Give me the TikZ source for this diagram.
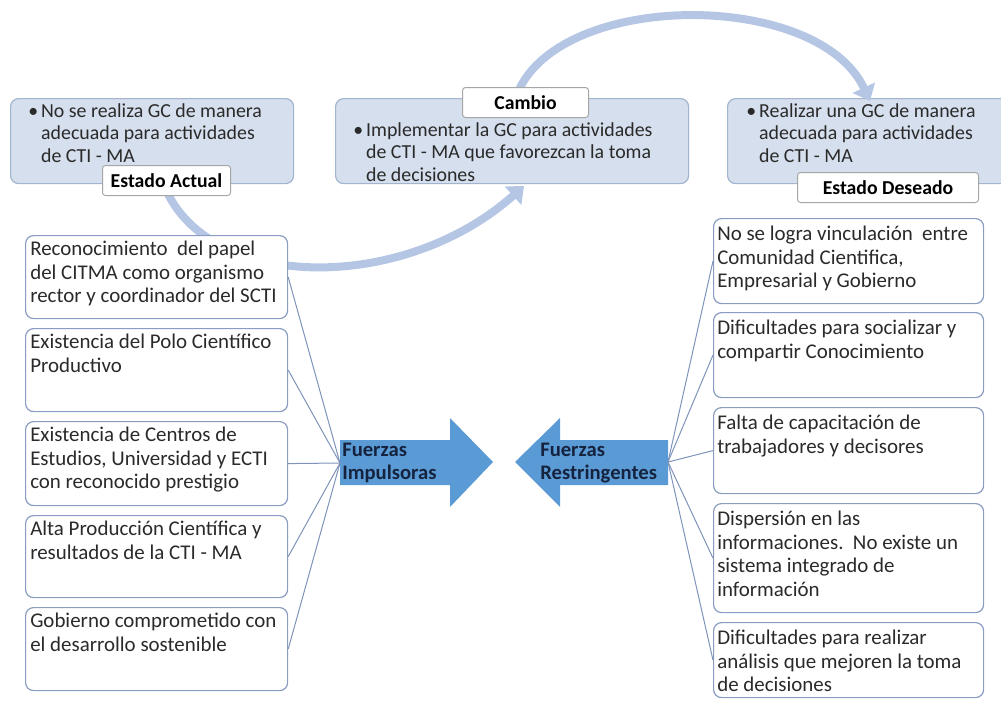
\documentclass[tikz,border=0pt]{standalone}
\usepackage{fontspec}
\setmainfont{Carlito}
\usetikzlibrary{arrows.meta,calc}
\newlength\px \setlength\px{0.75pt}
\definecolor{topfill}{HTML}{D6DFED}
\definecolor{topdraw}{HTML}{A3B4CE}
\definecolor{boxdraw}{HTML}{8A9CC2}
\definecolor{arcblue}{HTML}{B4C6E4}
\definecolor{bigblue}{HTML}{5B9BD5}
\definecolor{txtdark}{HTML}{2A2A2A}
\definecolor{navy}{HTML}{15233F}
\definecolor{linkcol}{HTML}{7F93BA}
\definecolor{lbldraw}{HTML}{A6A6A6}
\begin{document}
\begin{tikzpicture}[x=0.75pt,y=-0.75pt,
  topbox/.style={draw=topdraw, fill=topfill, rounded corners=6pt, line width=0.9pt, anchor=north west, inner sep=0},
  lblbox/.style={draw=lbldraw, fill=white, rounded corners=2.25pt, line width=0.75pt, anchor=north west, inner sep=0, text=black, font=\fontsize{14.8}{17}\selectfont\bfseries},
  fbox/.style={draw=boxdraw, fill=white, rounded corners=6pt, line width=0.9pt, anchor=north west, inner sep=0},
  ftext/.style={anchor=north west, inner sep=0, align=left, text=txtdark, font=\fontsize{15.7}{17.6}\selectfont},
  toptext/.style={anchor=north west, inner sep=0, text=txtdark, font=\fontsize{14.9}{16.9}\selectfont},
  bigtext/.style={inner sep=0, align=left, text=navy, font=\fontsize{15.5}{17.3}\selectfont\bfseries},
  link/.style={draw=linkcol, line width=0.75pt},
  arcarrow/.style={draw=arcblue, line width=6pt, -{Triangle[width=18pt,length=11pt]}}
]
\useasboundingbox (0,0) rectangle (1001,703);

% top boxes
\node[topbox, minimum width=212.25pt, minimum height=63.75pt] (ea) at (10,98) {};
\node[topbox, minimum width=264.75pt, minimum height=63.75pt] (ca) at (335,98) {};
\node[topbox, minimum width=225pt, minimum height=63.75pt] (ed) at (727,98) {};

\node[toptext] (eat) at ($(ea.north west)+(18,3)$) {\begin{tabular}{@{}l@{\hspace{2.25pt}}l@{}}\textbullet & No se realiza GC de manera\\ & adecuada para actividades\\ & de CTI - MA\end{tabular}};
\node[toptext] (cat) at ($(ca.north west)+(18,22)$) {\begin{tabular}{@{}l@{\hspace{2.25pt}}l@{}}\textbullet & Implementar la GC para actividades\\ & de CTI - MA que favorezcan la toma\\ & de decisiones\end{tabular}};
\node[toptext] (edt) at ($(ed.north west)+(19,3)$) {\begin{tabular}{@{}l@{\hspace{2.25pt}}l@{}}\textbullet & Realizar una GC de manera\\ & adecuada para actividades\\ & de CTI - MA\end{tabular}};

% curved arrows
\coordinate (a1s) at (167,192);
\coordinate (a1e) at (524,186);
\coordinate (a2s) at (518,92);
\coordinate (a2e) at (870,101);
\draw[arcarrow] (a1s) .. controls (215,292) and (405,292) .. (a1e);
\draw[arcarrow] (a2s) .. controls (562,-10) and (818,-10) .. (a2e);

% labels
\node[lblbox, minimum width=96pt, minimum height=22.5pt] (lea) at (102,165) {Estado Actual};
\node[lblbox, minimum width=94.5pt, minimum height=22.5pt] (lca) at (462,87) {Cambio};
\node[lblbox, minimum width=135.75pt, minimum height=22.5pt] (led) at (797,172) {Estado Deseado};

% big arrows
\fill[bigblue] (340,440) -- (450,440) -- (450,418) -- (493,462) -- (450,507) -- (450,485) -- (340,485) -- cycle;
\fill[bigblue] (668,440) -- (560,440) -- (560,418) -- (515,462) -- (560,507) -- (560,485) -- (668,485) -- cycle;
\node[bigtext, anchor=west] (fi) at (340,463) {\hspace{1.5pt}Fuerzas\\\hspace{1.5pt}Impulsoras};
\node[bigtext, anchor=west] (frt) at (540,463) {Fuerzas\\Restringentes};
\coordinate (fr) at (668,462);

% left boxes
\node[fbox, minimum width=196.5pt, minimum height=62.25pt] (l1) at (25,235) {};
\node[fbox, minimum width=196.5pt, minimum height=62.25pt] (l2) at (25,328) {};
\node[fbox, minimum width=196.5pt, minimum height=63pt] (l3) at (25,421) {};
\node[fbox, minimum width=196.5pt, minimum height=61.5pt] (l4) at (25,515) {};
\node[fbox, minimum width=196.5pt, minimum height=62.25pt] (l5) at (25,607) {};

\node[ftext] at ($(l1.north west)+(5,6)$) {Reconocimiento\ \ del papel\\del CITMA como organismo\\rector y coordinador del SCTI};
\node[ftext] at ($(l2.north west)+(5,6)$) {Existencia del Polo Científico\\Productivo};
\node[ftext] at ($(l3.north west)+(5,6)$) {Existencia de Centros de\\Estudios, Universidad y ECTI\\con reconocido prestigio};
\node[ftext] at ($(l4.north west)+(5,6)$) {Alta Producción Científica y\\resultados de la CTI - MA};
\node[ftext] at ($(l5.north west)+(5,6)$) {Gobierno comprometido con\\el desarrollo sostenible};

% right boxes
\node[fbox, minimum width=202.5pt, minimum height=63.75pt] (r1) at (713,218) {};
\node[fbox, minimum width=202.5pt, minimum height=63.75pt] (r2) at (713,312) {};
\node[fbox, minimum width=202.5pt, minimum height=64.5pt] (r3) at (713,407) {};
\node[fbox, minimum width=202.5pt, minimum height=81.75pt] (r4) at (713,503) {};
\node[fbox, minimum width=202.5pt, minimum height=56.25pt] (r5) at (713,622) {};

\node[ftext] at ($(r1.north west)+(4,8)$) {No se logra vinculación\ \ entre\\Comunidad Cientifica,\\Empresarial y Gobierno};
\node[ftext] at ($(r2.north west)+(4,8)$) {Dificultades para socializar y\\compartir Conocimiento};
\node[ftext] at ($(r3.north west)+(4,8)$) {Falta de capacitación de\\trabajadores y decisores};
\node[ftext] at ($(r4.north west)+(4,8)$) {Dispersión en las\\informaciones.\ \ No existe un\\sistema integrado de\\información};
\node[ftext] at ($(r5.north west)+(4,8)$) {Dificultades para realizar\\análisis que mejoren la toma\\de decisiones};

% connectors
\foreach \b in {l1,l2,l3,l4,l5} \draw[link] (\b.east) -- (fi.west);
\foreach \b in {r1,r2,r3,r4,r5} \draw[link] (\b.west) -- (fr);
\end{tikzpicture}
\end{document}
